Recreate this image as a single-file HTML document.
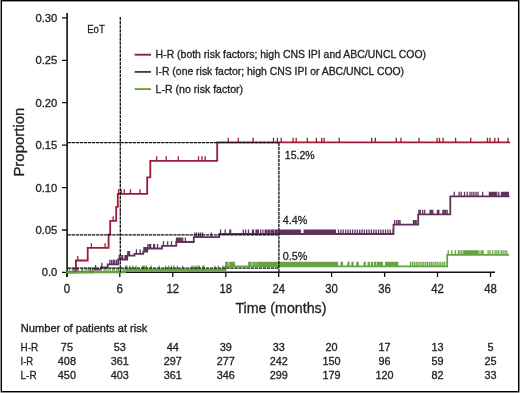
<!DOCTYPE html>
<html><head><meta charset="utf-8"><title>Cumulative incidence</title>
<style>html,body{margin:0;padding:0;background:#fff;}svg{display:block;will-change:transform;}</style>
</head><body>
<svg width="520" height="393" viewBox="0 0 520 393" font-family="&quot;Liberation Sans&quot;, sans-serif" fill="#231f20">
<style>text{stroke:#231f20;stroke-width:0.32px;paint-order:stroke;}</style>
<rect x="0" y="0" width="520" height="393" fill="#ffffff"/>
<g shape-rendering="crispEdges"><rect x="0" y="0" width="1" height="393" fill="#979797"/><rect x="519" y="0" width="1" height="393" fill="#8c8c8c"/><rect x="0" y="392" width="520" height="1" fill="#8c8c8c"/><rect x="0" y="392" width="1" height="1" fill="#c8c8c8"/><rect x="519" y="392" width="1" height="1" fill="#c8c8c8"/><rect x="1" y="0" width="518" height="1" fill="#000"/><rect x="2" y="1" width="516" height="1" fill="#000" fill-opacity="0.4"/><rect x="1" y="0" width="1" height="392" fill="#000"/><rect x="518" y="0" width="1" height="392" fill="#000"/><rect x="1" y="391" width="518" height="1" fill="#000"/></g>
<path d="M67.1,13V277" stroke="#111" stroke-width="1.6" fill="none"/>
<path d="M67.1,272.2H495" stroke="#111" stroke-width="1.5" fill="none"/>
<path d="M62,272.4H67M62,230.0H67M62,187.6H67M62,145.2H67M62,102.7H67M62,60.3H67M62,17.9H67" stroke="#111" stroke-width="1.3" fill="none"/>
<path d="M66.9,272V277M119.8,272V277M172.8,272V277M225.8,272V277M278.7,272V277M331.6,272V277M384.6,272V277M437.5,272V277M490.5,272V277" stroke="#111" stroke-width="1.3" fill="none"/>
<path d="M67.0,272.3 H75.9 V260.5 H87.7 V247.9 H108.6 V234.3 H110.2 V220.8 H116.2 V206.8 H117.8 V193.8 H147.2 V177.3 H150.3 V160.9 H217.2 V142.3 H509.2" stroke="#9a1d37" stroke-width="1.80" fill="none" stroke-linejoin="miter" stroke-linecap="square"/>
<path d="M77.8,260.5V255.9M91.4,247.9V243.3M105.1,247.9V243.3M113.2,220.8V216.2M118.6,193.8V189.2M121.2,193.8V189.2M124.2,193.8V189.2M130.5,193.8V189.2M140.0,193.8V189.2M156.7,160.9V156.3M166.2,160.9V156.3M178.3,160.9V156.3M198.5,160.9V156.3M202.0,160.9V156.3M205.2,160.9V156.3M228.2,142.3V137.7M238.3,142.3V137.7M253.1,142.3V137.7M273.5,142.3V137.7M277.4,142.3V137.7M281.2,142.3V137.7M293.1,142.3V137.7M296.2,142.3V137.7M307.3,142.3V137.7M316.4,142.3V137.7M321.7,142.3V137.7M324.1,142.3V137.7M339.2,142.3V137.7M371.7,142.3V137.7M375.3,142.3V137.7M396.2,142.3V137.7M401.0,142.3V137.7M419.0,142.3V137.7M437.1,142.3V137.7M439.5,142.3V137.7M443.1,142.3V137.7M455.6,142.3V137.7M470.7,142.3V137.7M487.5,142.3V137.7M490.0,142.3V137.7M494.8,142.3V137.7M498.4,142.3V137.7M508.0,142.3V137.7" stroke="#9a1d37" stroke-width="1.30" fill="none"/>
<path d="M67.0,272.3 H93.0 V269.7 H101.0 V267.4 H107.6 V264.4 H118.2 V259.5 H127.2 V255.6 H134.5 V253.8 H143.3 V251.6 H147.2 V248.5 H162.0 V245.8 H176.2 V242.0 H193.8 V237.2 H219.2 V234.0 H393.5 V224.6 H418.2 V214.4 H450.3 V196.4 H508.6" stroke="#5f325e" stroke-width="1.80" fill="none" stroke-linejoin="miter" stroke-linecap="square"/>
<path d="M74.0,272.3V267.7M78.0,272.3V267.7M82.0,272.3V267.7M90.2,272.3V267.7M95.6,269.7V265.1M101.8,267.4V262.8M109.8,264.4V259.8M111.6,264.4V259.8M113.3,264.4V259.8M114.7,264.4V259.8M116.5,264.4V259.8M119.2,259.5V254.9M121.9,259.5V254.9M122.6,259.5V254.9M125.0,259.5V254.9M125.9,259.5V254.9M126.8,259.5V254.9M127.8,255.6V251.0M128.7,255.6V251.0M129.5,255.6V251.0M136.4,253.8V249.2M140.2,253.8V249.2M143.9,251.6V247.0M144.9,251.6V247.0M145.9,251.6V247.0M146.8,251.6V247.0M147.9,248.5V243.9M149.5,248.5V243.9M150.6,248.5V243.9M153.7,248.5V243.9M154.5,248.5V243.9M157.5,248.5V243.9M163.5,245.8V241.2M167.7,245.8V241.2M171.5,245.8V241.2M176.5,242.0V237.4M177.7,242.0V237.4M178.8,242.0V237.4M180.0,242.0V237.4M181.2,242.0V237.4M182.7,242.0V237.4M185.4,242.0V237.4M194.8,237.2V232.6M196.7,237.2V232.6M198.7,237.2V232.6M200.6,237.2V232.6M202.5,237.2V232.6M211.2,237.2V232.6M220.6,234.0V229.4M225.2,234.0V229.4M229.8,234.0V229.4M230.6,234.0V229.4M243.3,234.0V229.4M245.6,234.0V229.4M248.5,234.0V229.4M252.5,234.0V229.4M253.5,234.0V229.4M256.0,234.0V229.4M257.3,234.0V229.4M258.3,234.0V229.4M260.6,234.0V229.4M262.9,234.0V229.4M265.2,234.0V229.4M266.2,234.0V229.4M267.0,234.0V229.4M268.6,234.0V229.4M269.8,234.0V229.4M271.5,234.0V229.4M272.5,234.0V229.4M273.3,234.0V229.4M275.0,234.0V229.4M276.1,234.0V229.4M277.3,234.0V229.4M279.2,234.0V229.4M280.4,234.0V229.4M281.7,234.0V229.4M282.9,234.0V229.4M284.2,234.0V229.4M285.4,234.0V229.4M286.7,234.0V229.4M287.9,234.0V229.4M289.2,234.0V229.4M290.4,234.0V229.4M291.7,234.0V229.4M292.9,234.0V229.4M294.2,234.0V229.4M295.4,234.0V229.4M296.7,234.0V229.4M297.9,234.0V229.4M299.2,234.0V229.4M300.4,234.0V229.4M304.2,234.0V229.4M305.4,234.0V229.4M306.7,234.0V229.4M307.9,234.0V229.4M309.2,234.0V229.4M310.4,234.0V229.4M311.7,234.0V229.4M312.9,234.0V229.4M314.2,234.0V229.4M315.4,234.0V229.4M316.7,234.0V229.4M317.9,234.0V229.4M319.2,234.0V229.4M320.4,234.0V229.4M321.7,234.0V229.4M322.9,234.0V229.4M324.2,234.0V229.4M325.4,234.0V229.4M326.7,234.0V229.4M327.9,234.0V229.4M329.2,234.0V229.4M330.4,234.0V229.4M331.7,234.0V229.4M332.9,234.0V229.4M334.2,234.0V229.4M335.4,234.0V229.4M338.5,234.0V229.4M340.9,234.0V229.4M343.2,234.0V229.4M345.6,234.0V229.4M347.9,234.0V229.4M350.3,234.0V229.4M352.6,234.0V229.4M355.0,234.0V229.4M357.3,234.0V229.4M359.7,234.0V229.4M362.0,234.0V229.4M364.4,234.0V229.4M366.7,234.0V229.4M369.1,234.0V229.4M371.4,234.0V229.4M373.8,234.0V229.4M376.1,234.0V229.4M378.5,234.0V229.4M380.8,234.0V229.4M383.2,234.0V229.4M385.5,234.0V229.4M387.9,234.0V229.4M390.2,234.0V229.4M393.2,234.0V229.4M394.7,224.6V220.0M396.8,224.6V220.0M398.5,224.6V220.0M400.0,224.6V220.0M413.5,224.6V220.0M414.9,224.6V220.0M416.2,224.6V220.0M418.9,214.4V209.8M420.3,214.4V209.8M422.7,214.4V209.8M424.7,214.4V209.8M430.1,214.4V209.8M431.4,214.4V209.8M432.8,214.4V209.8M437.5,214.4V209.8M438.8,214.4V209.8M442.9,214.4V209.8M444.2,214.4V209.8M445.6,214.4V209.8M447.2,214.4V209.8M454.2,196.4V191.8M459.1,196.4V191.8M461.2,196.4V191.8M464.5,196.4V191.8M467.2,196.4V191.8M469.9,196.4V191.8M471.9,196.4V191.8M473.9,196.4V191.8M476.0,196.4V191.8M478.0,196.4V191.8M482.7,196.4V191.8M489.4,196.4V191.8M490.6,196.4V191.8M491.8,196.4V191.8M493.0,196.4V191.8M494.2,196.4V191.8M495.4,196.4V191.8M496.8,196.4V191.8M498.8,196.4V191.8M501.5,196.4V191.8M502.7,196.4V191.8M503.9,196.4V191.8M505.1,196.4V191.8M506.3,196.4V191.8M507.5,196.4V191.8M508.3,196.4V191.8" stroke="#5f325e" stroke-width="1.30" fill="none"/>
<path d="M67.0,272.3 H125.2 V270.0 H225.4 V266.3 H447.2 V254.8 H508.2" stroke="#66a343" stroke-width="1.80" fill="none" stroke-linejoin="miter" stroke-linecap="square"/>
<path d="M69.5,272.3V267.7M72.3,272.3V267.7M77.5,272.3V267.7M82.7,272.3V267.7M85.0,272.3V267.7M86.8,272.3V267.7M88.5,272.3V267.7M92.0,272.3V267.7M93.7,272.3V267.7M101.2,272.3V267.7M104.1,272.3V267.7M105.8,272.3V267.7M108.1,272.3V267.7M110.4,272.3V267.7M112.7,272.3V267.7M114.4,272.3V267.7M116.8,272.3V267.7M118.5,272.3V267.7M120.8,272.3V267.7M123.1,272.3V267.7M125.6,270.0V265.4M126.8,270.0V265.4M129.8,270.0V265.4M132.7,270.0V265.4M136.1,270.0V265.4M142.5,270.0V265.4M143.5,270.0V265.4M144.5,270.0V265.4M146.5,270.0V265.4M151.1,270.0V265.4M159.2,270.0V265.4M165.5,270.0V265.4M168.5,270.0V265.4M171.5,270.0V265.4M173.8,270.0V265.4M177.4,270.0V265.4M182.7,270.0V265.4M191.9,270.0V265.4M193.6,270.0V265.4M196.0,270.0V265.4M197.7,270.0V265.4M199.4,270.0V265.4M202.9,270.0V265.4M204.0,270.0V265.4M215.0,270.0V265.4M218.4,270.0V265.4M223.1,270.0V265.4M225.8,266.3V261.7M226.8,266.3V261.7M227.8,266.3V261.7M229.8,266.3V261.7M231.0,266.3V261.7M232.1,266.3V261.7M233.3,266.3V261.7M234.4,266.3V261.7M248.8,266.3V261.7M250.0,266.3V261.7M251.0,266.3V261.7M253.0,266.3V261.7M254.5,266.3V261.7M256.0,266.3V261.7M257.5,266.3V261.7M258.5,266.3V261.7M259.5,266.3V261.7M260.5,266.3V261.7M261.5,266.3V261.7M262.5,266.3V261.7M263.5,266.3V261.7M264.5,266.3V261.7M265.5,266.3V261.7M266.5,266.3V261.7M267.5,266.3V261.7M268.5,266.3V261.7M269.5,266.3V261.7M270.5,266.3V261.7M271.5,266.3V261.7M272.5,266.3V261.7M273.5,266.3V261.7M274.5,266.3V261.7M275.5,266.3V261.7M276.5,266.3V261.7M277.5,266.3V261.7M278.5,266.3V261.7M279.5,266.3V261.7M280.5,266.3V261.7M281.5,266.3V261.7M282.5,266.3V261.7M283.5,266.3V261.7M284.5,266.3V261.7M285.5,266.3V261.7M286.5,266.3V261.7M287.5,266.3V261.7M288.5,266.3V261.7M289.5,266.3V261.7M290.5,266.3V261.7M291.5,266.3V261.7M292.5,266.3V261.7M293.5,266.3V261.7M294.5,266.3V261.7M295.5,266.3V261.7M296.5,266.3V261.7M297.5,266.3V261.7M298.5,266.3V261.7M299.5,266.3V261.7M300.5,266.3V261.7M301.5,266.3V261.7M302.5,266.3V261.7M303.5,266.3V261.7M304.5,266.3V261.7M305.5,266.3V261.7M306.5,266.3V261.7M307.5,266.3V261.7M308.5,266.3V261.7M309.5,266.3V261.7M310.5,266.3V261.7M311.5,266.3V261.7M312.5,266.3V261.7M313.5,266.3V261.7M314.5,266.3V261.7M315.5,266.3V261.7M316.5,266.3V261.7M317.5,266.3V261.7M318.5,266.3V261.7M319.5,266.3V261.7M320.5,266.3V261.7M321.5,266.3V261.7M322.5,266.3V261.7M323.5,266.3V261.7M324.5,266.3V261.7M325.5,266.3V261.7M326.5,266.3V261.7M327.5,266.3V261.7M328.5,266.3V261.7M329.5,266.3V261.7M330.5,266.3V261.7M331.5,266.3V261.7M332.5,266.3V261.7M333.5,266.3V261.7M334.5,266.3V261.7M335.5,266.3V261.7M336.5,266.3V261.7M337.5,266.3V261.7M341.2,266.3V261.7M342.4,266.3V261.7M348.0,266.3V261.7M349.0,266.3V261.7M352.0,266.3V261.7M353.0,266.3V261.7M356.8,266.3V261.7M358.2,266.3V261.7M364.1,266.3V261.7M365.2,266.3V261.7M368.2,266.3V261.7M369.2,266.3V261.7M371.5,266.3V261.7M372.5,266.3V261.7M374.6,266.3V261.7M375.5,266.3V261.7M377.3,266.3V261.7M378.3,266.3V261.7M379.3,266.3V261.7M380.3,266.3V261.7M381.3,266.3V261.7M382.3,266.3V261.7M385.7,266.3V261.7M386.7,266.3V261.7M387.7,266.3V261.7M388.7,266.3V261.7M389.7,266.3V261.7M390.7,266.3V261.7M391.7,266.3V261.7M392.7,266.3V261.7M393.7,266.3V261.7M394.7,266.3V261.7M395.7,266.3V261.7M396.7,266.3V261.7M397.7,266.3V261.7M410.5,266.3V261.7M412.4,266.3V261.7M414.3,266.3V261.7M416.2,266.3V261.7M418.1,266.3V261.7M420.0,266.3V261.7M421.9,266.3V261.7M423.8,266.3V261.7M425.7,266.3V261.7M427.6,266.3V261.7M429.5,266.3V261.7M431.4,266.3V261.7M433.3,266.3V261.7M435.2,266.3V261.7M437.1,266.3V261.7M439.0,266.3V261.7M440.9,266.3V261.7M442.8,266.3V261.7M444.7,266.3V261.7M448.2,254.8V250.2M451.8,254.8V250.2M455.4,254.8V250.2M458.3,254.8V250.2M460.0,254.8V250.2M461.9,254.8V250.2M463.8,254.8V250.2M464.8,254.8V250.2M465.8,254.8V250.2M466.9,254.8V250.2M468.0,254.8V250.2M469.0,254.8V250.2M470.0,254.8V250.2M471.0,254.8V250.2M472.0,254.8V250.2M473.0,254.8V250.2M474.0,254.8V250.2M475.0,254.8V250.2M476.0,254.8V250.2M477.0,254.8V250.2M478.1,254.8V250.2M480.0,254.8V250.2M481.9,254.8V250.2M483.1,254.8V250.2M488.1,254.8V250.2M490.0,254.8V250.2M492.5,254.8V250.2M495.0,254.8V250.2M496.9,254.8V250.2M498.8,254.8V250.2M501.3,254.8V250.2M503.1,254.8V250.2M505.0,254.8V250.2M506.9,254.8V250.2" stroke="#66a343" stroke-width="1.30" fill="none"/>
<path d="M120.3,17V272.4" stroke="#111" stroke-width="1.3" stroke-dasharray="3.35 0.72" fill="none"/>
<path d="M278.9,142.6V272.4" stroke="#111" stroke-width="1.3" stroke-dasharray="3.35 0.72" fill="none"/>
<path d="M67.5,142.7H278.7" stroke="#111" stroke-width="1.3" stroke-dasharray="3.35 0.72" fill="none"/>
<path d="M67.5,234.9H278.7" stroke="#111" stroke-width="1.3" stroke-dasharray="3.35 0.72" fill="none"/>
<path d="M67.5,268.2H278.7" stroke="#111" stroke-width="1.3" stroke-dasharray="3.35 0.72" fill="none"/>
<text x="57.3" y="276.3" font-size="11.7" text-anchor="end" textLength="15.6" lengthAdjust="spacingAndGlyphs">0.0</text>
<text x="57.3" y="233.9" font-size="11.7" text-anchor="end" textLength="21.9" lengthAdjust="spacingAndGlyphs">0.05</text>
<text x="57.3" y="191.5" font-size="11.7" text-anchor="end" textLength="21.9" lengthAdjust="spacingAndGlyphs">0.10</text>
<text x="57.3" y="149.1" font-size="11.7" text-anchor="end" textLength="21.9" lengthAdjust="spacingAndGlyphs">0.15</text>
<text x="57.3" y="106.6" font-size="11.7" text-anchor="end" textLength="21.9" lengthAdjust="spacingAndGlyphs">0.20</text>
<text x="57.3" y="64.2" font-size="11.7" text-anchor="end" textLength="21.9" lengthAdjust="spacingAndGlyphs">0.25</text>
<text x="57.3" y="21.8" font-size="11.7" text-anchor="end" textLength="21.9" lengthAdjust="spacingAndGlyphs">0.30</text>
<text x="66.9" y="292.6" font-size="12" text-anchor="middle" textLength="6.4" lengthAdjust="spacingAndGlyphs">0</text>
<text x="119.8" y="292.6" font-size="12" text-anchor="middle" textLength="6.4" lengthAdjust="spacingAndGlyphs">6</text>
<text x="172.8" y="292.6" font-size="12" text-anchor="middle" textLength="12.6" lengthAdjust="spacingAndGlyphs">12</text>
<text x="225.8" y="292.6" font-size="12" text-anchor="middle" textLength="12.6" lengthAdjust="spacingAndGlyphs">18</text>
<text x="278.7" y="292.6" font-size="12" text-anchor="middle" textLength="12.6" lengthAdjust="spacingAndGlyphs">24</text>
<text x="331.6" y="292.6" font-size="12" text-anchor="middle" textLength="12.6" lengthAdjust="spacingAndGlyphs">30</text>
<text x="384.6" y="292.6" font-size="12" text-anchor="middle" textLength="12.6" lengthAdjust="spacingAndGlyphs">36</text>
<text x="437.5" y="292.6" font-size="12" text-anchor="middle" textLength="12.6" lengthAdjust="spacingAndGlyphs">42</text>
<text x="490.5" y="292.6" font-size="12" text-anchor="middle" textLength="12.6" lengthAdjust="spacingAndGlyphs">48</text>
<text x="0" y="0" font-size="15" transform="translate(23.9,176.6) rotate(-90)" textLength="69" lengthAdjust="spacingAndGlyphs">Proportion</text>
<text x="235.4" y="312.8" font-size="15" textLength="91" lengthAdjust="spacingAndGlyphs">Time (months)</text>
<text x="87.2" y="32.8" font-size="11" textLength="17.6" lengthAdjust="spacingAndGlyphs">EoT</text>
<path d="M134.6,54.7H151" stroke="#9a1d37" stroke-width="1.9"/>
<text x="155.6" y="58.2" font-size="10.6" textLength="270.5" lengthAdjust="spacingAndGlyphs">H-R (both risk factors; high CNS IPI and ABC/UNCL COO)</text>
<path d="M134.6,71.9H151" stroke="#5f325e" stroke-width="1.9"/>
<text x="155.6" y="75.4" font-size="10.6" textLength="248.5" lengthAdjust="spacingAndGlyphs">I-R (one risk factor; high CNS IPI or ABC/UNCL COO)</text>
<path d="M134.6,89.1H151" stroke="#66a343" stroke-width="1.9"/>
<text x="155.6" y="92.6" font-size="10.6" textLength="87.5" lengthAdjust="spacingAndGlyphs">L-R (no risk factor)</text>
<text x="284.8" y="158.9" font-size="11.5" textLength="29.8" lengthAdjust="spacingAndGlyphs">15.2%</text>
<text x="282.7" y="224.2" font-size="11.5" textLength="24.6" lengthAdjust="spacingAndGlyphs">4.4%</text>
<text x="282.7" y="259.8" font-size="11.5" textLength="24.6" lengthAdjust="spacingAndGlyphs">0.5%</text>
<text x="20.8" y="332.1" font-size="10.6" textLength="126.6" lengthAdjust="spacingAndGlyphs">Number of patients at risk</text>
<text x="20.6" y="350.7" font-size="10.6" textLength="17.6" lengthAdjust="spacingAndGlyphs">H-R</text>
<text x="66.9" y="350.7" font-size="10.6" text-anchor="middle" textLength="12.1" lengthAdjust="spacingAndGlyphs">75</text>
<text x="119.8" y="350.7" font-size="10.6" text-anchor="middle" textLength="12.1" lengthAdjust="spacingAndGlyphs">53</text>
<text x="172.8" y="350.7" font-size="10.6" text-anchor="middle" textLength="12.1" lengthAdjust="spacingAndGlyphs">44</text>
<text x="225.8" y="350.7" font-size="10.6" text-anchor="middle" textLength="12.1" lengthAdjust="spacingAndGlyphs">39</text>
<text x="278.7" y="350.7" font-size="10.6" text-anchor="middle" textLength="12.1" lengthAdjust="spacingAndGlyphs">33</text>
<text x="331.6" y="350.7" font-size="10.6" text-anchor="middle" textLength="12.1" lengthAdjust="spacingAndGlyphs">20</text>
<text x="384.6" y="350.7" font-size="10.6" text-anchor="middle" textLength="12.1" lengthAdjust="spacingAndGlyphs">17</text>
<text x="437.5" y="350.7" font-size="10.6" text-anchor="middle" textLength="12.1" lengthAdjust="spacingAndGlyphs">13</text>
<text x="490.5" y="350.7" font-size="10.6" text-anchor="middle" textLength="6.0" lengthAdjust="spacingAndGlyphs">5</text>
<text x="20.6" y="364.7" font-size="10.6" textLength="12.6" lengthAdjust="spacingAndGlyphs">I-R</text>
<text x="66.9" y="364.7" font-size="10.6" text-anchor="middle" textLength="18.1" lengthAdjust="spacingAndGlyphs">408</text>
<text x="119.8" y="364.7" font-size="10.6" text-anchor="middle" textLength="18.1" lengthAdjust="spacingAndGlyphs">361</text>
<text x="172.8" y="364.7" font-size="10.6" text-anchor="middle" textLength="18.1" lengthAdjust="spacingAndGlyphs">297</text>
<text x="225.8" y="364.7" font-size="10.6" text-anchor="middle" textLength="18.1" lengthAdjust="spacingAndGlyphs">277</text>
<text x="278.7" y="364.7" font-size="10.6" text-anchor="middle" textLength="18.1" lengthAdjust="spacingAndGlyphs">242</text>
<text x="331.6" y="364.7" font-size="10.6" text-anchor="middle" textLength="18.1" lengthAdjust="spacingAndGlyphs">150</text>
<text x="384.6" y="364.7" font-size="10.6" text-anchor="middle" textLength="12.1" lengthAdjust="spacingAndGlyphs">96</text>
<text x="437.5" y="364.7" font-size="10.6" text-anchor="middle" textLength="12.1" lengthAdjust="spacingAndGlyphs">59</text>
<text x="490.5" y="364.7" font-size="10.6" text-anchor="middle" textLength="12.1" lengthAdjust="spacingAndGlyphs">25</text>
<text x="20.6" y="378.8" font-size="10.6" textLength="16.0" lengthAdjust="spacingAndGlyphs">L-R</text>
<text x="66.9" y="378.8" font-size="10.6" text-anchor="middle" textLength="18.1" lengthAdjust="spacingAndGlyphs">450</text>
<text x="119.8" y="378.8" font-size="10.6" text-anchor="middle" textLength="18.1" lengthAdjust="spacingAndGlyphs">403</text>
<text x="172.8" y="378.8" font-size="10.6" text-anchor="middle" textLength="18.1" lengthAdjust="spacingAndGlyphs">361</text>
<text x="225.8" y="378.8" font-size="10.6" text-anchor="middle" textLength="18.1" lengthAdjust="spacingAndGlyphs">346</text>
<text x="278.7" y="378.8" font-size="10.6" text-anchor="middle" textLength="18.1" lengthAdjust="spacingAndGlyphs">299</text>
<text x="331.6" y="378.8" font-size="10.6" text-anchor="middle" textLength="18.1" lengthAdjust="spacingAndGlyphs">179</text>
<text x="384.6" y="378.8" font-size="10.6" text-anchor="middle" textLength="18.1" lengthAdjust="spacingAndGlyphs">120</text>
<text x="437.5" y="378.8" font-size="10.6" text-anchor="middle" textLength="12.1" lengthAdjust="spacingAndGlyphs">82</text>
<text x="490.5" y="378.8" font-size="10.6" text-anchor="middle" textLength="12.1" lengthAdjust="spacingAndGlyphs">33</text>
</svg>
</body></html>
